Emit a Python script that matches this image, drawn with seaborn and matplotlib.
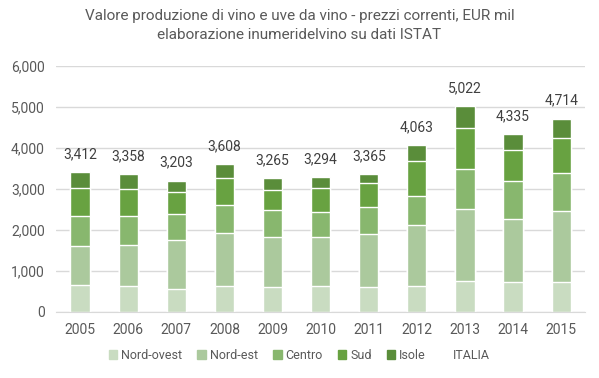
import numpy as np
import pandas as pd
import matplotlib
matplotlib.use("Agg")
import matplotlib.pyplot as plt
import seaborn as sns
from matplotlib.lines import Line2D

# Data (EUR mil)
years = ['2005', '2006', '2007', '2008', '2009', '2010', '2011', '2012', '2013', '2014', '2015']
nord_ovest = [660, 634, 560, 634, 610, 634, 610, 634, 756, 732, 732]
nord_est = [950, 1000, 1195, 1293, 1220, 1195, 1292, 1488, 1756, 1536, 1731]
centro = [730, 707, 635, 683, 660, 610, 659, 707, 976, 927, 927]
sud = [685, 659, 537, 658, 488, 585, 585, 854, 1000, 756, 854]
isole = [387, 358, 276, 340, 289, 270, 219, 380, 534, 384, 470]
italia = [3412, 3358, 3203, 3608, 3265, 3294, 3365, 4063, 5022, 4335, 4714]

regions = ['Nord-ovest', 'Nord-est', 'Centro', 'Sud', 'Isole']
colors = ['#c9dcc1', '#abc99d', '#88b76e', '#68a241', '#5a8d3a']

df = pd.DataFrame({'Anno': years, 'Nord-ovest': nord_ovest, 'Nord-est': nord_est,
                   'Centro': centro, 'Sud': sud, 'Isole': isole})

sns.set_style("white")
plt.rcParams['font.family'] = ['Roboto', 'DejaVu Sans']

fig = plt.figure(figsize=(5.99, 3.78), dpi=100)
ax = fig.add_axes([0.0935, 0.175, 0.8835, 0.65])

# stacked bars: draw cumulative totals from top to bottom
cum = df[regions].cumsum(axis=1)
for reg, col in reversed(list(zip(regions, colors))):
    sns.barplot(x=df['Anno'], y=cum[reg], color=col, width=0.4, ax=ax,
                saturation=1, legend=False)

# ITALIA totals as labels above the bars
for i, v in enumerate(italia):
    ax.text(i, v + 270, f'{v:,}', ha='center', va='bottom', fontsize=10, color='#404040')

ax.set_ylim(0, 6000)
ax.set_yticks(range(0, 6001, 1000))
ax.set_yticklabels([f'{t:,}' for t in range(0, 6001, 1000)])
ax.set_xlabel('')
ax.set_ylabel('')
ax.grid(axis='y', color='#d9d9d9', linewidth=1)
ax.set_axisbelow(True)
for s in ['top', 'right', 'left']:
    ax.spines[s].set_visible(False)
ax.spines['bottom'].set_color('#d9d9d9')
ax.tick_params(axis='both', length=0, labelsize=10, labelcolor='#595959', pad=8)

fig.suptitle('Valore produzione di vino e uve da vino - prezzi correnti, EUR mil\n'
             'elaborazione inumeridelvino su dati ISTAT',
             x=0.5, y=0.975, fontsize=11, color='#595959', linespacing=1.45)

handles = [plt.Rectangle((0, 0), 1, 1, color=c) for c in colors]
handles.append(Line2D([], [], linestyle='none'))
labels = regions + ['ITALIA']
leg = fig.legend(handles, labels, loc='center', bbox_to_anchor=(0.5, 0.06), ncol=6,
                 frameon=False, fontsize=9, handlelength=0.7, handleheight=0.7,
                 handletextpad=0.3, columnspacing=1.2)
for t in leg.get_texts():
    t.set_color('#595959')

fig.savefig('out.png', dpi=100)
